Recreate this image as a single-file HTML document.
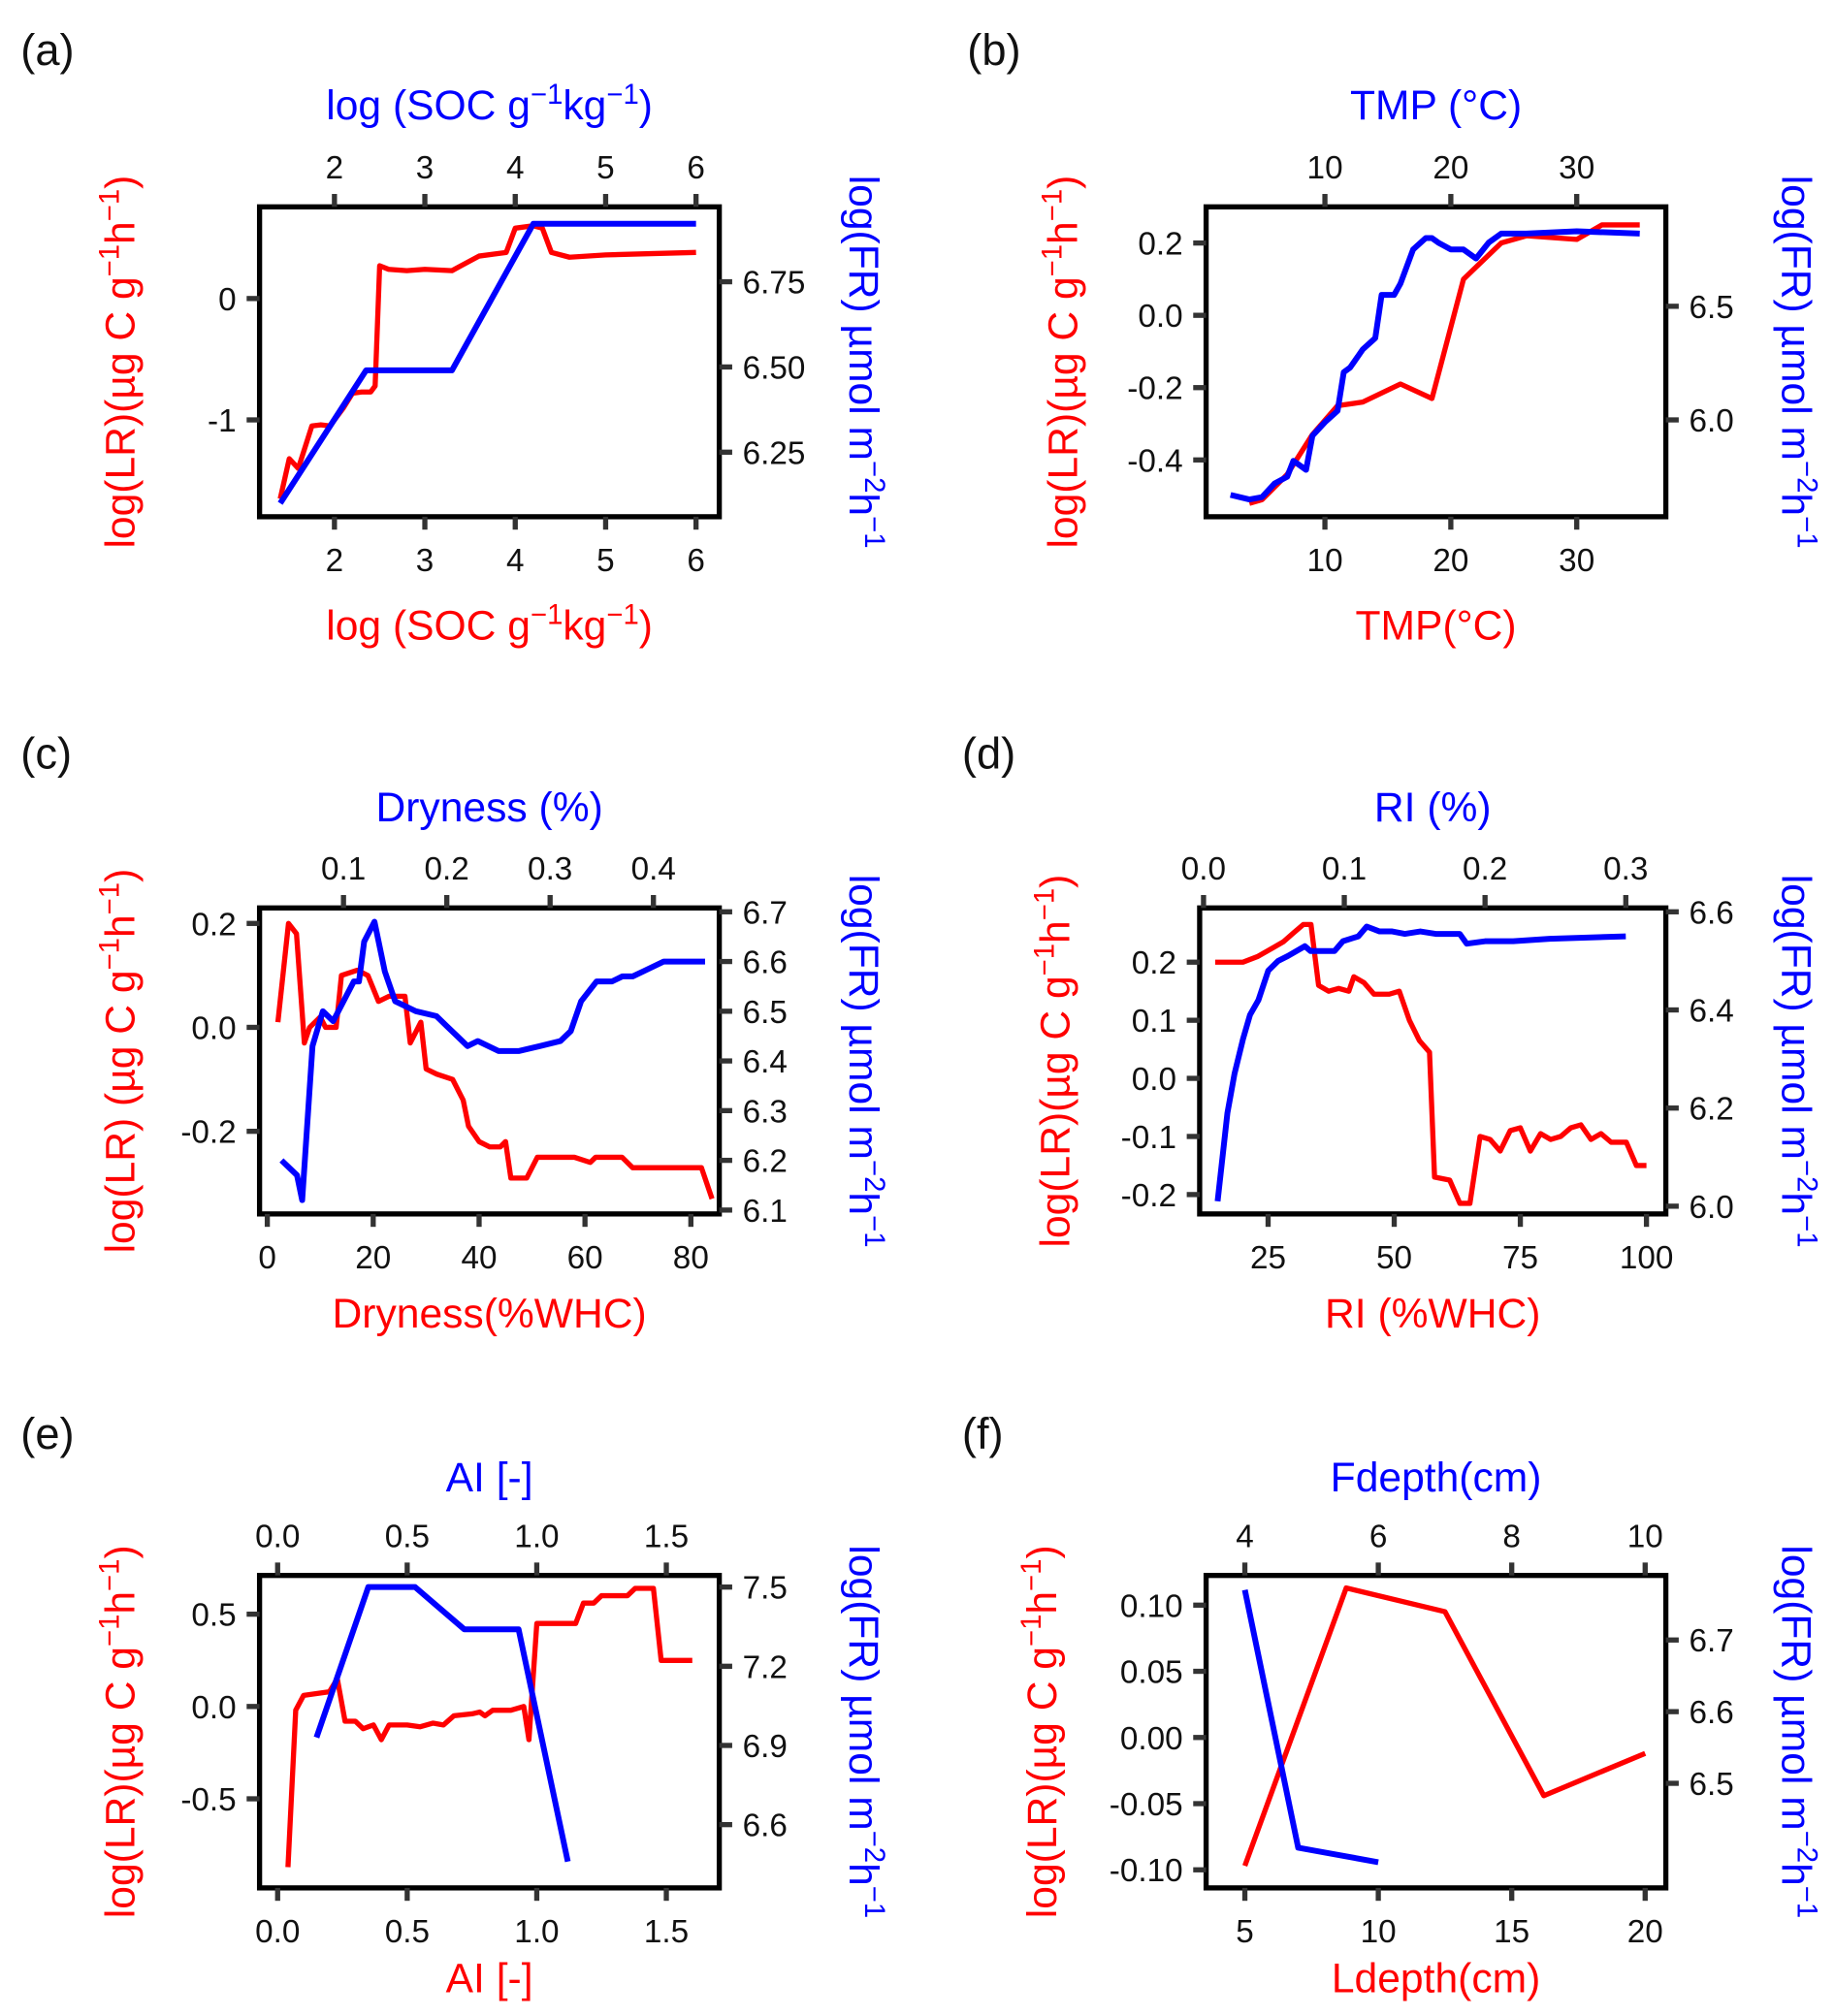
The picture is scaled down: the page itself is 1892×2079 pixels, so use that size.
<!DOCTYPE html>
<html><head><meta charset="utf-8">
<style>
html,body{margin:0;padding:0;background:#fff;}
svg{display:block;}
text{font-family:"Liberation Sans",Arial,sans-serif;}
</style></head>
<body>
<svg id="fig" width="1892" height="2079" viewBox="0 0 1421 1561" xmlns="http://www.w3.org/2000/svg"></svg>
<script>
// ---- Panel (a) data ----
const aRedX=[1.4,1.5,1.6,1.75,1.85,1.95,2.1,2.2,2.3,2.4,2.45,2.5,2.6,2.8,3.0,3.3,3.4,3.6,3.9,4.0,4.2,4.3,4.4,4.6,5.0,5.5,6.0];
const aRedY=[-1.65,-1.32,-1.4,-1.05,-1.04,-1.05,-0.9,-0.78,-0.77,-0.77,-0.72,0.27,0.24,0.23,0.24,0.23,0.27,0.35,0.38,0.58,0.6,0.58,0.38,0.34,0.36,0.37,0.38];
const aBlueX=[1.4,2.35,3.3,4.2,6.0];
const aBlueY=[6.1,6.49,6.49,6.92,6.92];
const aXTicks=[2,3,4,5,6];
const aLTicks=[0,-1];
const aRTicks=[6.75,6.50,6.25];
// ---- Panel (b) data ----
const bRedX=[4,5,7,9,11,13,16,18.5,21,24,26,30,32,35];
const bRedY=[-0.52,-0.51,-0.44,-0.33,-0.25,-0.24,-0.19,-0.23,0.1,0.2,0.22,0.21,0.25,0.25];
const bBlueX=[2.5,4,5,6,7,7.5,8.5,9,10,11,11.5,12,13,14,14.5,15.5,16,17,18,18.5,19,20,21,22,23,24,26,30,35];
const bBlueY=[5.67,5.65,5.66,5.72,5.75,5.82,5.78,5.93,5.99,6.04,6.21,6.23,6.31,6.36,6.55,6.55,6.6,6.75,6.8,6.8,6.78,6.75,6.75,6.71,6.78,6.82,6.82,6.83,6.82];
const bXTicks=[10,20,30];
const bLTicks=[0.2,0.0,-0.2,-0.4];
const bRTicks=[6.5,6.0];
// ---- Panel (c) data ----
const cRedX=[2,4,5.5,7,8,10,11,13,14,17,19,21,23,26,27,29,30,32,35,37,38,40,42,44,45,46,49,51,58,61,62,67,69,82,84];
const cRedY=[0.01,0.2,0.18,-0.03,0.0,0.02,0.0,0.0,0.1,0.11,0.1,0.05,0.06,0.06,-0.03,0.01,-0.08,-0.09,-0.1,-0.14,-0.19,-0.22,-0.23,-0.23,-0.22,-0.29,-0.29,-0.25,-0.25,-0.26,-0.25,-0.25,-0.27,-0.27,-0.33];
const cBlueX=[0.04,0.055,0.06,0.07,0.08,0.09,0.1,0.11,0.115,0.12,0.13,0.14,0.15,0.17,0.19,0.2,0.21,0.22,0.23,0.25,0.27,0.29,0.31,0.32,0.33,0.345,0.36,0.37,0.38,0.39,0.41,0.45];
const cBlueY=[6.2,6.17,6.12,6.43,6.5,6.48,6.52,6.56,6.56,6.64,6.68,6.58,6.52,6.5,6.49,6.47,6.45,6.43,6.44,6.42,6.42,6.43,6.44,6.46,6.52,6.56,6.56,6.57,6.57,6.58,6.6,6.6];
const cXTicks=[0,20,40,60,80];
const cTTicks=[0.1,0.2,0.3,0.4];
const cLTicks=[0.2,0.0,-0.2];
const cRTicks=[6.7,6.6,6.5,6.4,6.3,6.2,6.1];
// ---- Panel (d) data ----
const dRedX=[14.5,20,23,26,28,30,32,33.5,35,37,39,41,42,44,46,49,51,53,55,57,58,61,63,65,67,69,71,73,75,77,79,81,83,85,87,89,91,93,96,98,100];
const dRedY=[0.2,0.2,0.21,0.225,0.235,0.25,0.265,0.265,0.16,0.15,0.155,0.15,0.175,0.165,0.145,0.145,0.15,0.1,0.065,0.045,-0.17,-0.175,-0.215,-0.215,-0.1,-0.105,-0.125,-0.09,-0.085,-0.125,-0.095,-0.105,-0.1,-0.085,-0.08,-0.105,-0.095,-0.11,-0.11,-0.15,-0.15];
const dBlueX=[0.01,0.017,0.022,0.028,0.033,0.039,0.046,0.053,0.06,0.072,0.076,0.093,0.099,0.11,0.116,0.125,0.134,0.143,0.154,0.165,0.182,0.187,0.2,0.22,0.246,0.3];
const dBlueY=[6.01,6.19,6.27,6.34,6.39,6.42,6.48,6.5,6.51,6.53,6.52,6.52,6.54,6.55,6.57,6.56,6.56,6.555,6.56,6.555,6.555,6.535,6.54,6.54,6.545,6.55];
const dXTicks=[25,50,75,100];
const dTTicks=["0.0","0.1","0.2","0.3"];
const dLTicks=[0.2,0.1,0.0,-0.1,-0.2];
const dRTicks=[6.6,6.4,6.2,6.0];
// ---- Panel (e) data ----
const eRedX=[0.04,0.07,0.1,0.15,0.2,0.23,0.26,0.3,0.33,0.37,0.4,0.43,0.5,0.55,0.6,0.64,0.68,0.75,0.78,0.8,0.83,0.9,0.95,0.97,1.0,1.15,1.18,1.22,1.25,1.35,1.38,1.45,1.48,1.6];
const eRedY=[-0.87,-0.02,0.06,0.07,0.08,0.15,-0.08,-0.08,-0.12,-0.1,-0.18,-0.1,-0.1,-0.11,-0.09,-0.1,-0.05,-0.04,-0.03,-0.05,-0.02,-0.02,0.0,-0.18,0.45,0.45,0.56,0.56,0.6,0.6,0.64,0.64,0.25,0.25];
const eBlueX=[0.15,0.35,0.53,0.72,0.93,1.12];
const eBlueY=[6.93,7.5,7.5,7.34,7.34,6.46];
const eXTicks=["0.0","0.5","1.0","1.5"];
const eLTicks=["0.5","0.0","-0.5"];
const eRTicks=["7.5","7.2","6.9","6.6"];
// ---- Panel (f) data ----
const fRedX=[5,8.8,12.5,16.2,20];
const fRedY=[-0.097,0.113,0.095,-0.044,-0.012];
const fBlueX=[4,4.8,6];
const fBlueY=[6.77,6.41,6.39];
const fXTicks=[5,10,15,20];
const fTTicks=[4,6,8,10];
const fLTicks=["0.10","0.05","0.00","-0.05","-0.10"];
const fRTicks=["6.7","6.6","6.5"];

const NS="http://www.w3.org/2000/svg";
const svg=document.getElementById('fig');
function mk(tag,attrs,parent){const e=document.createElementNS(NS,tag);for(const k in attrs)e.setAttribute(k,attrs[k]);(parent||svg).appendChild(e);return e;}
function lin(v1,p1,v2,p2){return v=>p1+(v-v1)*(p2-p1)/(v2-v1);}
function fmt(t){return typeof t==='string'?t:String(t);}
const TF=25;

function panel(id,c){
  const g=mk('g',{});
  
  
  const {x0,x1,y0,y1}=c;
  const lt=mk('text',{x:c.lx,y:c.ly,'font-size':34,fill:'#111'},g);lt.textContent='('+id+')';
  
  
  const r=mk('rect',{x:x0,y:y0,width:x1-x0,height:y1-y0,fill:'none',stroke:'#000','stroke-width':4},g);
  
  
  c.xTicks.forEach(t=>{const px=c.xs(+t);
    const tk=mk('line',{x1:px,x2:px,y1:y1,y2:y1+10,stroke:'#333','stroke-width':4},g);
    
    
    const tx=mk('text',{x:px,y:y1+42,'font-size':TF,'text-anchor':'middle',fill:'#111'},g);tx.textContent=fmt(t);
    
    
  });
  c.tTicks.forEach(t=>{const px=c.ts(+t);
    const tk=mk('line',{x1:px,x2:px,y1:y0,y2:y0-10,stroke:'#333','stroke-width':4},g);
    
    
    const tx=mk('text',{x:px,y:y0-22,'font-size':TF,'text-anchor':'middle',fill:'#111'},g);tx.textContent=fmt(t);
    
    
  });
  c.lTicks.forEach(t=>{const py=c.ls(+t);
    const tk=mk('line',{x1:x0,x2:x0-10,y1:py,y2:py,stroke:'#333','stroke-width':4},g);
    
    
    const tx=mk('text',{x:x0-18,y:py+9,'font-size':TF,'text-anchor':'end',fill:'#111'},g);tx.textContent=fmt(t);
    
    
  });
  c.rTicks.forEach(t=>{const py=c.rs(+t);
    const tk=mk('line',{x1:x1,x2:x1+10,y1:py,y2:py,stroke:'#333','stroke-width':4},g);
    
    
    const tx=mk('text',{x:x1+18,y:py+9,'font-size':TF,'text-anchor':'start',fill:'#111'},g);tx.textContent=fmt(t);
    
    
  });
  const rp=c.redX.map((v,i)=>c.xs(v).toFixed(1)+','+c.ls(c.redY[i]).toFixed(1)).join(' ');
  const rl=mk('polyline',{points:rp,fill:'none',stroke:'#f00','stroke-width':4,'stroke-linejoin':'round'},g);
  
  
  const bp=c.blueX.map((v,i)=>c.ts(v).toFixed(1)+','+c.rs(c.blueY[i]).toFixed(1)).join(' ');
  const bl=mk('polyline',{points:bp,fill:'none',stroke:'#00f','stroke-width':4.5,'stroke-linejoin':'round'},g);
  
  
  const cx=(x0+x1)/2;
  const tt=mk('text',{x:cx,y:c.topTitleY,'font-size':32,'text-anchor':'middle',fill:'#00f'},g);tt.innerHTML=c.topTitle;
  
  
  const bt=mk('text',{x:cx,y:c.botTitleY,'font-size':32,'text-anchor':'middle',fill:'#f00'},g);bt.innerHTML=c.botTitle;
  
  
  const cy=(y0+y1)/2;
  const lT=mk('text',{x:0,y:0,'font-size':32,'text-anchor':'middle',fill:'#f00',transform:`translate(${c.ltx},${cy}) rotate(-90)`},g);
  lT.innerHTML=c.leftTitle;
  
  
  const rT=mk('text',{x:0,y:0,'font-size':32,'text-anchor':'middle',fill:'#00f',transform:`translate(${c.rtx},${cy}) rotate(90)`},g);
  rT.innerHTML='log(FR) µmol m<tspan dy="-12" font-size="22">−2</tspan><tspan dy="12">h</tspan><tspan dy="-12" font-size="22">−1</tspan>';
  
  
}
const sup=(s)=>`<tspan dy="-12" font-size="22">${s}</tspan>`;
const socT='log (SOC g'+sup('−1')+'<tspan dy="12">kg</tspan>'+sup('−1')+'<tspan dy="12">)</tspan>';
const lrT='log(LR)(µg C g'+sup('−1')+'<tspan dy="12">h</tspan>'+sup('−1')+'<tspan dy="12">)</tspan>';
const lrT2='log(LR) (µg C g'+sup('−1')+'<tspan dy="12">h</tspan>'+sup('−1')+'<tspan dy="12">)</tspan>';

panel('a',{x0:201,x1:557,y0:160,y1:400,lx:16,ly:50,
  xs:lin(2,259,6,539),ts:lin(2,259,6,539),ls:lin(0,231,-1,325),rs:lin(6.75,218,6.25,350),
  xTicks:aXTicks,tTicks:aXTicks,lTicks:aLTicks,rTicks:aRTicks.map(v=>v.toFixed(2)),
  redX:aRedX,redY:aRedY,blueX:aBlueX,blueY:aBlueY,
  topTitle:socT,botTitle:socT,topTitleY:92,botTitleY:495,leftTitle:lrT,ltx:104,rtx:658});
panel('b',{x0:934,x1:1290,y0:160,y1:400,lx:749,ly:50,
  xs:lin(10,1026,30,1221),ts:lin(10,1026,30,1221),ls:lin(0.2,188,-0.4,356),rs:lin(6.5,237,6.0,325),
  xTicks:bXTicks,tTicks:bXTicks,lTicks:bLTicks.map(v=>v.toFixed(1)),rTicks:bRTicks.map(v=>v.toFixed(1)),
  redX:bRedX,redY:bRedY,blueX:bBlueX,blueY:bBlueY,
  topTitle:'TMP (°C)',botTitle:'TMP(°C)',topTitleY:92,botTitleY:495,leftTitle:lrT,ltx:834,rtx:1380});
panel('c',{x0:201,x1:557,y0:703,y1:940,lx:16,ly:595,
  xs:lin(0,207,80,535),ts:lin(0.1,266,0.4,506),ls:lin(0.2,715,-0.2,876),rs:lin(6.7,706,6.1,937),
  xTicks:cXTicks,tTicks:cTTicks,lTicks:cLTicks.map(v=>v.toFixed(1)),rTicks:cRTicks.map(v=>v.toFixed(1)),
  redX:cRedX,redY:cRedY,blueX:cBlueX,blueY:cBlueY,
  topTitle:'Dryness (%)',botTitle:'Dryness(%WHC)',topTitleY:636,botTitleY:1028,leftTitle:lrT2,ltx:104,rtx:658});
panel('d',{x0:929,x1:1290,y0:703,y1:940,lx:745,ly:595,
  xs:lin(25,982,100,1275),ts:lin(0,932,0.3,1259),ls:lin(0.2,745,-0.2,925),rs:lin(6.6,706,6.0,934),
  xTicks:dXTicks,tTicks:dTTicks,lTicks:dLTicks.map(v=>v.toFixed(1)),rTicks:dRTicks.map(v=>v.toFixed(1)),
  redX:dRedX,redY:dRedY,blueX:dBlueX,blueY:dBlueY,
  topTitle:'RI (%)',botTitle:'RI (%WHC)',topTitleY:636,botTitleY:1028,leftTitle:lrT,ltx:828,rtx:1380});
panel('e',{x0:201,x1:557,y0:1220,y1:1462,lx:16,ly:1122,
  xs:lin(0,215,1.5,516),ts:lin(0,215,1.5,516),ls:lin(0.5,1250,-0.5,1393),rs:lin(7.5,1229,6.6,1413),
  xTicks:eXTicks,tTicks:eXTicks,lTicks:eLTicks,rTicks:eRTicks,
  redX:eRedX,redY:eRedY,blueX:eBlueX,blueY:eBlueY,
  topTitle:'AI [-]',botTitle:'AI [-]',topTitleY:1155,botTitleY:1543,leftTitle:lrT,ltx:104,rtx:658});
panel('f',{x0:934,x1:1290,y0:1220,y1:1462,lx:745,ly:1122,
  xs:lin(5,964,20,1274),ts:lin(4,964,10,1274),ls:lin(0.1,1243,-0.1,1448),rs:lin(6.7,1270,6.5,1381),
  xTicks:fXTicks,tTicks:fTTicks,lTicks:fLTicks,rTicks:fRTicks,
  redX:fRedX,redY:fRedY,blueX:fBlueX,blueY:fBlueY,
  topTitle:'Fdepth(cm)',botTitle:'Ldepth(cm)',topTitleY:1155,botTitleY:1543,leftTitle:lrT,ltx:818,rtx:1380});
</script>
</body></html>
